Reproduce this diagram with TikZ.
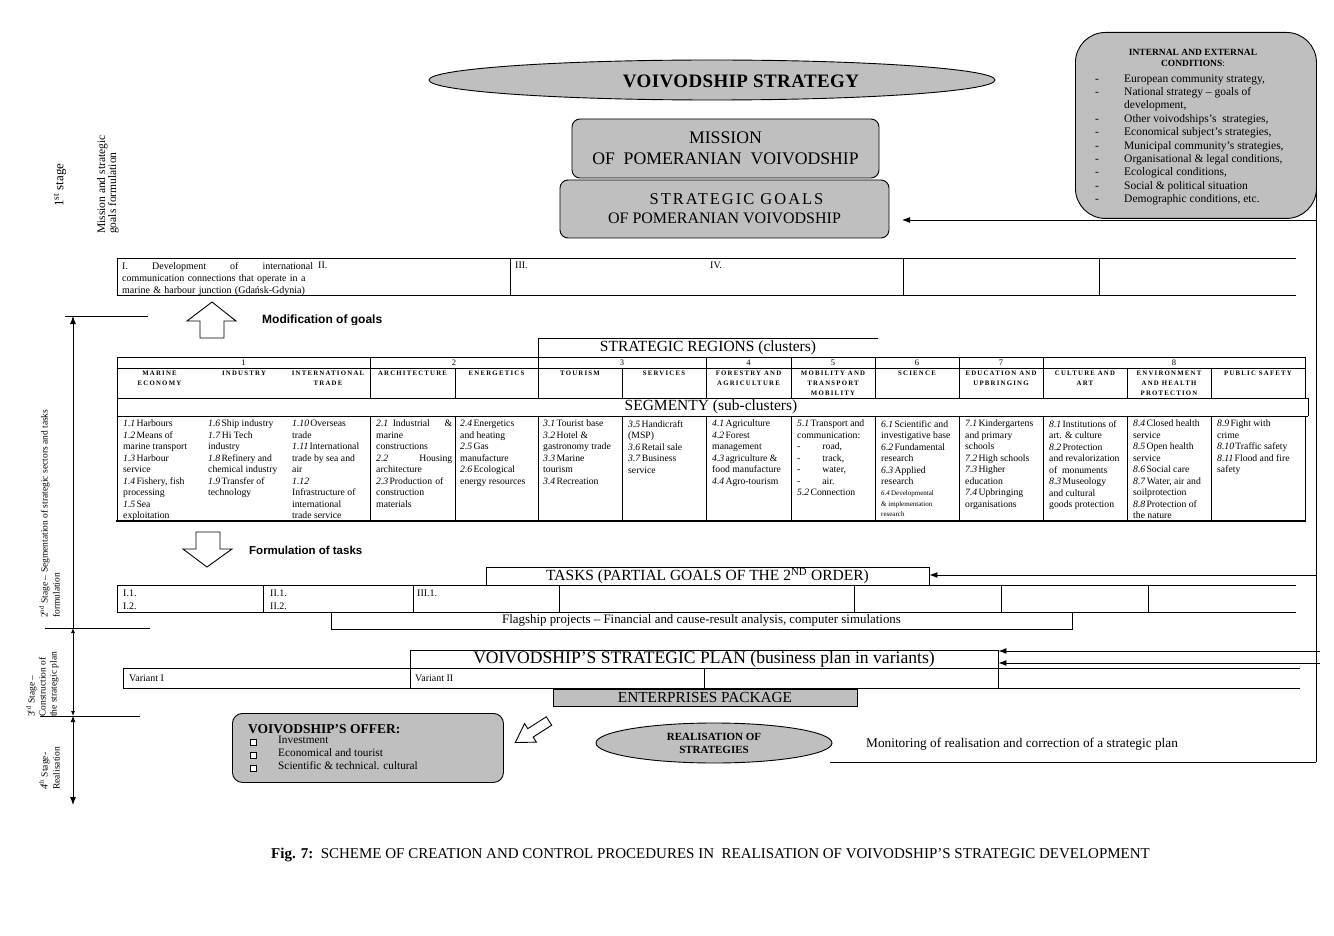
\documentclass[tikz,border=0pt]{standalone}
\usepackage{fontspec}
\setmainfont{Liberation Serif}
\newfontfamily\sansf{Liberation Sans}
\newfontfamily\hdrf[LetterSpace=18]{Liberation Serif}
\newfontfamily\widef[LetterSpace=12]{Liberation Serif}
\newfontfamily\midf[LetterSpace=2]{Liberation Serif}
\usetikzlibrary{arrows.meta,shapes.geometric,calc}
\newcommand\nn[1]{\textit{#1}\kern1.2pt}
\newcommand\fs[2]{\fontsize{#1}{#2}\selectfont}
\begin{document}
\begin{tikzpicture}[x=1pt,y=-1pt,
  ln/.style={line width=0.9pt},
  thk/.style={line width=1.8pt},
  gfill/.style={draw, line width=0.9pt, fill=black!25},
  arr/.style={line width=0.9pt, -{Latex[length=8pt,width=6pt]}},
  cell/.style={inner sep=0pt, anchor=north west, align=left, font=\fs{9.7}{11.5}},
  hdr/.style={inner sep=0pt, anchor=north, align=center, font=\hdrf\bfseries\fs{6.8}{10}},
  num/.style={inner sep=0pt, font=\fs{8.5}{9}},
  stg/.style={rotate=90, inner sep=0pt, anchor=north west, align=left}]
\useasboundingbox (0,0) rectangle (1334,936);
\fill[white] (0,0) rectangle (1334,936);

% ---------- right rail ----------
\coordinate (railtop) at (1316,190);
\coordinate (railbot) at (1316,762);
\draw[ln] (railtop) -- (railbot);
\coordinate (c220) at (1316,220);
\coordinate (g220) at (902,220);
\draw[arr] (c220) -- (g220);

% ---------- conditions box ----------
\node[gfill, rounded corners=30pt, minimum width=241pt, minimum height=186pt, anchor=north west, inner sep=0pt] (cond) at (1075,32) {};
\node[inner sep=0pt, align=center, font=\bfseries\fs{9.5}{11}] (condt) at (1193,58) {INTERNAL AND EXTERNAL\\CONDITIONS\textmd{:}};
\node[inner sep=0pt, anchor=north west, font=\fs{11.5}{13.4}] (condl) at (1095,72.5) {%
\begin{tabular}{@{}p{29pt}@{}l@{}}
-&European community strategy,\\
-&National strategy -- goals of\\
 &development,\\
-&Other voivodships's\ \ strategies,\\
-&Economical subject's strategies,\\
-&Municipal community's strategies,\\
-&Organisational \& legal conditions,\\
-&Ecological conditions,\\
-&Social \& political situation\\
-&Demographic conditions, etc.
\end{tabular}};

% ---------- top ----------
\node[ellipse, gfill, minimum width=566pt, minimum height=40pt, inner sep=0pt] (strat) at (712,80) {};
\node[inner sep=0pt, font=\midf\bfseries\fs{19}{21}] (stratt) at (741,81) {VOIVODSHIP STRATEGY};
\node[gfill, rounded corners=8pt, minimum width=307pt, minimum height=59pt, inner sep=0pt, align=center, font=\fs{17.7}{21}] (mission) at (725.5,148.5) {MISSION\\OF\ \ POMERANIAN\ \ VOIVODSHIP};
\node[gfill, rounded corners=8pt, minimum width=329pt, minimum height=58pt, inner sep=0pt, align=center, font=\fs{16}{19}] (goals) at (724.5,209) {\hspace*{24pt}{\widef\fs{16.5}{19}STRATEGIC GOALS}\\OF POMERANIAN VOIVODSHIP};

% ---------- goals row ----------
\draw[ln] (117,258) -- (1296,258);
\draw[ln] (117,295) -- (1296,295);
\foreach \x in {117,510,903,1099} \draw[ln] (\x,258) -- (\x,295);
\node[cell, text width=191pt, font=\fs{10}{12}] (g1) at (122,262) {I.\hfill Development\hfill of\hfill international\\communication connections that operate in a\\marine \& harbour junction (Gdańsk-Gdynia)};
\node[cell, font=\fs{10}{12}] (g2) at (318,262) {II.};
\node[cell, font=\fs{10}{12}] (g3) at (515,262) {III.};
\node[cell, font=\fs{10}{12}] (g4) at (710,262) {IV.};

% up arrow + label
\draw[ln, fill=white] (212,302) -- (236,321) -- (224,321) -- (224,338) -- (200,338) -- (200,321) -- (187,321) -- cycle;
\begin{scope}
\clip (250,305) rectangle (420,324);
\node[inner sep=0pt, anchor=west, font=\sansf\bfseries\fs{12}{13}] (modg) at (262,320.5) {Modification of goals};
\end{scope}
\draw[ln] (65,316) -- (148,316);

% ---------- strategic regions table ----------
\draw[ln] (538,357) -- (538,338) -- (878,338);
\node[inner sep=0pt, font=\fs{15.5}{17}] (sr) at (708,348) {STRATEGIC REGIONS (clusters)};
\draw[ln] (117,357) -- (1305,357);
\draw[ln] (117,368) -- (1305,368);
\draw[ln] (117,398) -- (1308,398) -- (1308,416);
\draw[ln] (117,416) -- (1308,416);
\draw[thk] (116,521) -- (1306,521);
\draw[ln] (117,357) -- (117,521);
\draw[ln] (1305,357) -- (1305,398);
\draw[ln] (1305,416) -- (1305,521);
\foreach \x in {370,538,706,791,875,959,1043} \draw[ln] (\x,357) -- (\x,368);
\foreach \x in {370,455,538,622,706,791,875,959,1043,1127,1211} {
  \draw[ln] (\x,368) -- (\x,398);
  \draw[ln] (\x,416) -- (\x,521);}
\foreach \x/\t [count=\i] in {243.5/1,454/2,622/3,748.5/4,833/5,917/6,1001/7,1174/8}
  \node[num] (n\i) at (\x,362.5) {\t};
\foreach \x/\t [count=\i] in {159.5/{MARINE\\ECONOMY},244/{INDUSTRY},328/{INTERNATIONAL\\TRADE},412.5/{ARCHITECTURE},496.5/{ENERGETICS},580/{TOURISM},664/{SERVICES},748.5/{FORESTRY AND\\AGRICULTURE},833/{MOBILITY AND\\TRANSPORT\\MOBILITY},917/{SCIENCE},1001/{EDUCATION AND\\UPBRINGING},1085/{CULTURE AND\\ART},1169/{ENVIRONMENT\\AND HEALTH\\PROTECTION},1258/{PUBLIC SAFETY}}
  \node[hdr] (h\i) at (\x,371) {\t};
\node[inner sep=0pt, font=\fs{15.5}{17}] (seg) at (711,407) {SEGMENTY (sub-clusters)};

\node[cell] (c1) at (123,420) {\nn{1.1}Harbours\\\nn{1.2}Means of\\marine transport\\\nn{1.3}Harbour\\service\\\nn{1.4}Fishery, fish\\processing\\\nn{1.5}Sea\\exploitation};
\node[cell] (c2) at (208,420) {\nn{1.6}Ship industry\\\nn{1.7} Hi Tech\\industry\\\nn{1.8}Refinery and\\chemical industry\\\nn{1.9}Transfer of\\technology};
\node[cell] (c3) at (292,420) {\nn{1.10} Overseas\\trade\\\nn{1.11}International\\trade by sea and\\air\\\nn{1.12}\\Infrastructure of\\international\\trade service};
\node[cell, text width=76pt] (c4) at (376,420) {\nn{2.1}\ Industrial\hfill\&\\marine\\constructions\\\nn{2.2}\hfill Housing\\architecture\\\nn{2.3} Production of\\construction\\materials};
\node[cell] (c5) at (460,420) {\nn{2.4}Energetics\\and heating\\\nn{2.5}Gas\\manufacture\\\nn{2.6}Ecological\\energy resources};
\node[cell] (c6) at (543,420) {\nn{3.1} Tourist base\\\nn{3.2}Hotel \&\\gastronomy trade\\\nn{3.3}Marine\\tourism\\\nn{3.4}Recreation};
\node[cell] (c7) at (628,420) {\nn{3.5}Handicraft\\(MSP)\\\nn{3.6}Retail sale\\\nn{3.7}Business\\service};
\node[cell] (c8) at (712,420) {\nn{4.1}Agriculture\\\nn{4.2}Forest\\management\\\nn{4.3}agriculture \&\\food manufacture\\\nn{4.4} Agro-tourism};
\node[cell] (c9) at (797,420) {\nn{5.1}Transport and\\communication:\\-\hspace{22pt}road,\\-\hspace{22pt}track,\\-\hspace{22pt}water,\\-\hspace{22pt}air.\\\nn{5.2}Connection};
\node[cell] (c10) at (881,420) {\nn{6.1} Scientific and\\investigative base\\\nn{6.2}Fundamental\\research\\\nn{6.3} Applied\\research};
\node[cell, font=\fs{7}{10.5}] (c10b) at (881,490.5) {\nn{6.4} Developmental\\\& implementation\\research};
\node[cell] (c11) at (965,420) {\nn{7.1} Kindergartens\\and primary\\schools\\\nn{7.2}High schools\\\nn{7.3}Higher\\education\\\nn{7.4}Upbringing\\organisations};
\node[cell] (c12) at (1049,420) {\nn{8.1}Institutions of\\art. \& culture\\\nn{8.2}Protection\\and revalorization\\of\ \ monuments\\\nn{8.3}Museology\\and cultural\\goods protection};
\node[cell] (c13) at (1133,420) {\nn{8.4}Closed health\\service\\\nn{8.5}Open health\\service\\\nn{8.6}Social care\\\nn{8.7}Water, air and\\soilprotection\\\nn{8.8}Protection of\\the nature};
\node[cell] (c14) at (1217,420) {\nn{8.9}Fight with\\crime\\\nn{8.10}Traffic safety\\\nn{8.11}Flood and fire\\safety};

% ---------- tasks ----------
\draw[ln, fill=white] (196,532) -- (220,532) -- (220,549) -- (232,549) -- (207,567) -- (183,549) -- (196,549) -- cycle;
\node[inner sep=0pt, anchor=west, font=\sansf\bfseries\fs{11.5}{13}] (formt) at (249,550) {Formulation of tasks};
\node[draw, ln, minimum width=443pt, minimum height=18pt, inner sep=0pt, font=\fs{15.5}{16}] (tasks) at (707.5,576) {TASKS (PARTIAL GOALS OF THE 2\textsuperscript{ND} ORDER)};
\coordinate (c575) at (1316,575);
\draw[arr] (c575) -- (tasks.east |- c575);
\draw[ln] (117,585) -- (1296,585);
\draw[ln] (117,612) -- (1296,612);
\foreach \x in {117,263,413,559,854,1001,1148} \draw[ln] (\x,585) -- (\x,612);
\node[cell, font=\fs{10}{13}] (t1) at (123,590) {I.1.\\I.2.};
\node[cell, font=\fs{10}{13}] (t2) at (270,590) {II.1.\\II.2.};
\node[cell, font=\fs{10}{13}] (t3) at (417,590) {III.1.};
\node[draw, ln, minimum width=741pt, minimum height=17pt, inner sep=0pt, font=\fs{12.9}{13}] (flag) at (701.5,620.5) {Flagship projects -- Financial and cause-result analysis, computer simulations};

% ---------- stage separators ----------
\draw[ln] (45,628) -- (150,628);
\draw[ln] (40,716) -- (140,716);
\coordinate (s2t) at (73,316);
\coordinate (s2b) at (73,628);
\coordinate (s3b) at (73,716);
\coordinate (s4b) at (73,805);
\draw[line width=0.9pt, -{Latex[length=8pt,width=6pt]}] (s2b) -- (s2t);
\draw[line width=0.9pt, {Latex[length=5pt,width=4pt]}-{Latex[length=5pt,width=4pt]}] (s2b) -- (s3b);
\draw[line width=0.9pt, {Latex[length=6pt,width=5pt]}-{Latex[length=8pt,width=6pt]}] (s3b) -- (s4b);

\node[rotate=90, inner sep=0pt, font=\fs{13}{15}] (st1) at (60,185) {1\textsuperscript{st} stage};
\node[stg, font=\fs{11.5}{11}] (st1b) at (97,234) {Mission and strategic\\goals formulation};
\node[stg, font=\fs{9.5}{12}] (st2) at (39,618) {2\textsuperscript{nd} Stage -- Segmentation of strategic sectors and tasks\\formulation};
\node[stg, font=\fs{9.5}{11}] (st3) at (26,717) {3\textsuperscript{rd} Stage --\\Construction of\\the strategic plan};
\node[stg, font=\fs{9.5}{12}] (st4) at (39,790) {4\textsuperscript{th} Stage-\\Realisation};

% ---------- plan ----------
\node[draw, ln, minimum width=588pt, minimum height=18pt, inner sep=0pt, font=\fs{17.6}{18}] (plan) at (704,659) {VOIVODSHIP'S STRATEGIC PLAN (business plan in variants)};
\coordinate (c651) at (1320,651);
\coordinate (c663) at (1320,663);
\draw[arr] (c651) -- (plan.east |- c651);
\draw[arr] (c663) -- (plan.east |- c663);
\draw[ln] (123,668) -- (1300,668);
\draw[ln] (123,688) -- (1300,688);
\foreach \x in {123,410,704,998} \draw[ln] (\x,668) -- (\x,688);
\node[cell, font=\fs{10}{12}] (v1) at (129,675) {Variant I};
\node[cell, font=\fs{10}{12}] (v2) at (415,675) {Variant II};
\node[gfill, minimum width=304pt, minimum height=17pt, inner sep=0pt, font=\fs{15.3}{16}] (ent) at (705,697.5) {ENTERPRISES PACKAGE};

% ---------- offer ----------
\node[gfill, rounded corners=10pt, minimum width=271pt, minimum height=69pt, anchor=north west, inner sep=0pt] (offer) at (232,713) {};
\node[inner sep=0pt, anchor=west, font=\bfseries\fs{13.5}{14}] (offert) at (248,729) {VOIVODSHIP'S OFFER:};
\node[cell, font=\fs{11.3}{13}] (offerl) at (278,736) {Investment\\Economical and tourist\\Scientific \& technical. cultural};
\foreach \y in {742,755,768} {
  \draw[line width=0.6pt, fill=white] (250,{\y-3}) rectangle (256,{\y+3});
  \draw[line width=1.1pt] (256.6,{\y-2.4}) -- (256.6,{\y+3.6}) -- (250.6,{\y+3.6});}
\begin{scope}[shift={(549,721)}, rotate=212.6]
\draw[ln, fill=white] (0,-5) -- (22,-5) -- (22,-11) -- (40,0) -- (22,11) -- (22,5) -- (0,5) -- cycle;
\end{scope}

% ---------- realisation ----------
\node[ellipse, gfill, minimum width=236pt, minimum height=40pt, inner sep=0pt, align=center, font=\bfseries\fs{11}{13}] (real) at (714,743) {REALISATION OF\\STRATEGIES};
\node[inner sep=0pt, anchor=west, font=\fs{13.3}{14}] (mon) at (866,744) {Monitoring of realisation and correction of a strategic plan};
\coordinate (rb) at (830,762);
\draw[ln] (rb) -- (railbot);

% ---------- caption ----------
\node[inner sep=0pt, anchor=west, font=\fs{15}{16}] (cap) at (271,855) {\textbf{Fig. 7:}\ \ SCHEME OF CREATION AND CONTROL PROCEDURES IN\ \ REALISATION OF VOIVODSHIP'S STRATEGIC DEVELOPMENT};
\end{tikzpicture}
\end{document}
